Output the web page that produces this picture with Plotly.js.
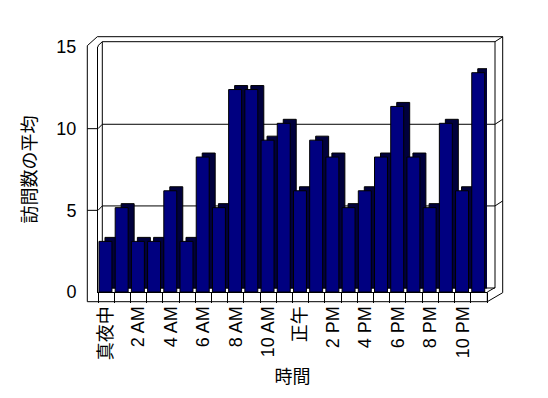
<!DOCTYPE html>
<html>
<head>
<meta charset="utf-8">
<script src="https://cdn.plot.ly/plotly-3.0.1.min.js"></script>
<style>html,body{margin:0;padding:0;background:#fff;}#chart{width:548px;height:398px;}</style>
</head>
<body>
<div id="chart"></div>
<script>
// ---- data ----
const hours = ["真夜中","1 AM","2 AM","3 AM","4 AM","5 AM","6 AM","7 AM","8 AM","9 AM","10 AM","11 AM",
               "正午","1 PM","2 PM","3 PM","4 PM","5 PM","6 PM","7 PM","8 PM","9 PM","10 PM","11 PM"];
const hourTickText = ["真夜中","","2 AM","","4 AM","","6 AM","","8 AM","","10 AM","",
                      "正午","","2 PM","","4 PM","","6 PM","","8 PM","","10 PM",""];
const avgVisits = [3,5,3,3,6,3,8,5,12,12,9,10,6,9,8,5,6,8,11,8,5,10,6,13];
const yTickVals = [0,5,10,15];
const yTitle = "訪問数の平均";
const xTitle = "時間";

// ---- geometry (pixels) ----
const W = 548, H = 398;
const M = {l:98, r:61, t:47, b:106};
const PW = W - M.l - M.r, PH = H - M.t - M.b;
const px = x => (x - M.l) / PW;
const py = y => (H - M.b - y) / PH;
const FONT = "Liberation Sans, Noto Sans CJK JP, sans-serif";

const depthX = 6, depthY = 4;           // oblique depth of bars (px)
const frontScale = 16.87;                // px per unit on the bars' front plane
const catW = PW / hours.length;

function line(x0,y0,x1,y1,layer){
  return {type:'line', xref:'paper', yref:'paper', x0:px(x0), y0:py(y0), x1:px(x1), y1:py(y1),
          line:{color:'#000', width:1}, layer: layer || 'above'};
}
const shapes = [];
// walls / floor outline
shapes.push(line(87.3,45.7,87.3,301.7));
shapes.push(line(87.3,301.7,487.3,301.7));
shapes.push(line(487.3,292,487.3,301.7));
shapes.push(line(487.3,301.7,502.7,292.7));
shapes.push(line(502.7,292.7,502.7,36.7));
shapes.push(line(502.7,36.7,97.3,36.7));
shapes.push(line(97.3,36.7,87.3,45.7));
shapes.push(line(98,45.7,102.3,41.7));
shapes.push(line(98,45.7,98,47));
shapes.push(line(102.3,41.7,495,41.7,'below'));
shapes.push(line(495,41.7,502.7,36.7));
shapes.push(line(102.3,41.7,102.3,288,'below'));
shapes.push(line(495,41.7,495,288,'below'));
shapes.push(line(102.3,288,495,288,'below'));
shapes.push(line(487.3,292,495,287.6,'below'));
// gridlines on the back wall with their ticks on the side wall
const axisScale = PH / (yTickVals[yTickVals.length-1] - yTickVals[0]);
yTickVals.filter(v => v > 0 && v < 15).forEach(v => {
  const fy = H - M.b - v * axisScale;
  shapes.push({type:'path', xref:'paper', yref:'paper', layer:'below',
    path:`M${px(87.3)},${py(fy)} L${px(98)},${py(fy)} L${px(102.3)},${py(fy-4.4)} L${px(495)},${py(fy-4.4)} L${px(502.7)},${py(fy-9.4)}`,
    line:{color:'#000', width:1}});
});

const barW = 0.8, barOff = -0.44;
const traces = [
  { // anchors the labelled value axis (no points)
    type:'scatter', mode:'markers', x:[], y:[], xaxis:'x', yaxis:'y',
    hoverinfo:'skip', showlegend:false
  },
  { // side + top faces (depth), drawn behind
    type:'bar', x:hours, y:avgVisits, yaxis:'y2',
    base: depthY / frontScale, width: barW, offset: barOff + depthX / catW,
    marker:{color:'#00003c', line:{color:'#000', width:1}},
    hoverinfo:'skip', showlegend:false
  },
  { // front faces
    type:'bar', x:hours, y:avgVisits, yaxis:'y2',
    width: barW, offset: barOff,
    marker:{color:'#000080', line:{color:'#000', width:1}},
    showlegend:false
  }
];

const layout = {
  width:W, height:H, margin:M,
  paper_bgcolor:'#fff', plot_bgcolor:'rgba(0,0,0,0)',
  barmode:'overlay', showlegend:false,
  font:{family:FONT, size:18, color:'#000'},
  xaxis:{
    type:'category', categoryorder:'array', categoryarray:hours,
    range:[-0.5, hours.length-0.5],
    tickmode:'array', tickvals:hours, ticktext:hourTickText,
    tickangle:-90, ticks:'outside', tickson:'boundaries', ticklen:10, tickcolor:'#000', tickwidth:1,
    ticklabelstandoff:6,
    showline:true, linecolor:'#000', linewidth:1, showgrid:false, zeroline:false,
    tickfont:{family:FONT, size:18, color:'#000'},
    title:{text:xTitle, font:{family:FONT, size:18, color:'#000'}, standoff:11}
  },
  yaxis:{
    range:[0,15], tickmode:'array', tickvals:yTickVals, ticktext:yTickVals.map(String),
    ticks:'outside', ticklen:11, tickcolor:'rgba(0,0,0,0)',
    ticklabelstandoff:6,
    showline:true, linecolor:'#000', linewidth:1, showgrid:false, zeroline:false,
    tickfont:{family:FONT, size:18, color:'#000'},
    title:{text:yTitle, font:{family:FONT, size:18, color:'#000'}, standoff:15}
  },
  yaxis2:{
    overlaying:'y', range:[0, PH / frontScale], visible:false,
    showgrid:false, zeroline:false, showline:false, showticklabels:false
  },
  shapes: shapes
};

Plotly.newPlot('chart', traces, layout, {staticPlot:true, displayModeBar:false});
</script>
</body>
</html>
